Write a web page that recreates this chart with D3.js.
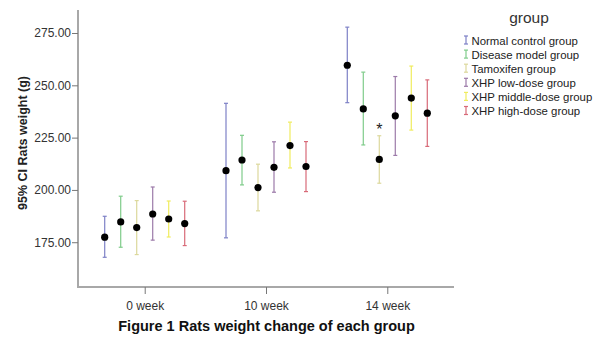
<!DOCTYPE html>
<html>
<head>
<meta charset="utf-8">
<script src="https://cdn.jsdelivr.net/npm/d3@7"></script>
<style>
  body { margin: 0; background: #fff; }
  text { font-family: "Liberation Sans", Arial, sans-serif; }
</style>
</head>
<body>
<script>
// Data
const weeks = ["0 week", "10 week", "14 week"];
const groups = ["Normal control group", "Disease model group", "Tamoxifen group",
  "XHP low-dose group", "XHP middle-dose group", "XHP high-dose group"];
const colors = ["#7d80c6", "#7fcc8a", "#dcd89c", "#9c7aa9", "#f0ec5e", "#d86a78"];

// mean per group, one array per week
const means = [
  [177.4, 184.7, 182.0, 188.5, 186.1, 183.9],
  [209.2, 214.3, 201.1, 210.8, 221.2, 211.2],
  [259.6, 238.7, 214.6, 235.4, 243.9, 236.7]
];
const upper = [
  [187.4, 197.0, 194.9, 201.4, 194.7, 194.6],
  [241.4, 226.1, 212.3, 223.0, 232.4, 223.1],
  [277.8, 256.3, 225.9, 254.2, 259.2, 252.6]
];
const lower = [
  [167.8, 172.6, 169.1, 176.0, 177.5, 173.4],
  [177.1, 202.4, 190.0, 198.9, 210.5, 199.2],
  [241.7, 221.5, 203.2, 216.5, 228.6, 220.8]
];
const yTicks = [175, 200, 225, 250, 275];

// Layout
const W = 595, H = 337;
const plot = { left: 78, right: 454, top: 10, bottom: 287 };

const svg = d3.select("body").append("svg")
  .attr("width", W)
  .attr("height", H);

const x = d3.scalePoint()
  .domain(weeks)
  .range([plot.left, plot.right])
  .padding(0.55);

const offset = d3.scalePoint()
  .domain(groups)
  .range([-40, 40]);

const y = d3.scaleLinear()
  .domain([153.6, 286])
  .range([plot.bottom, plot.top]);

// Axes
const yAxis = svg.append("g")
  .attr("transform", `translate(${plot.left},0)`)
  .call(d3.axisLeft(y).tickValues(yTicks).tickFormat(d3.format(".2f")).tickSize(6).tickSizeOuter(0));

const xAxis = svg.append("g")
  .attr("transform", `translate(0,${plot.bottom})`)
  .call(d3.axisBottom(x).tickSize(7).tickSizeOuter(0));

[yAxis, xAxis].forEach(g => {
  g.select(".domain").attr("stroke", "#a8a8a8").attr("stroke-width", 2);
  g.selectAll(".tick line").attr("stroke", "#777");
  g.selectAll(".tick text").attr("fill", "#333").style("font-size", "12px");
});
yAxis.selectAll(".tick text").attr("x", -7);
xAxis.selectAll(".tick text").attr("dy", "1.05em");

// extend domains so axes meet at the corner
yAxis.select(".domain").attr("d", `M0,${plot.top}V${plot.bottom + 1}`);
xAxis.select(".domain").attr("d", `M${plot.left - 1},0H${plot.right}`);

// Error bars and means
const cap = 2;
weeks.forEach((wk, wi) => {
  groups.forEach((gr, gi) => {
    const cx = x(wk) + offset(gr);
    const g = svg.append("g").attr("stroke", colors[gi]).attr("stroke-width", 1.2);
    g.append("line")
      .attr("x1", cx).attr("x2", cx)
      .attr("y1", y(upper[wi][gi])).attr("y2", y(lower[wi][gi]));
    [upper[wi][gi], lower[wi][gi]].forEach(v => {
      g.append("line")
        .attr("x1", cx - cap).attr("x2", cx + cap)
        .attr("y1", y(v)).attr("y2", y(v));
    });
    svg.append("circle")
      .attr("cx", cx)
      .attr("cy", y(means[wi][gi]))
      .attr("r", 3.6)
      .attr("fill", "#000");
  });
});

// significance star above tamoxifen at 14 week
svg.append("text")
  .attr("x", x("14 week") + offset(groups[2]))
  .attr("y", y(upper[2][2]) - 1)
  .attr("text-anchor", "middle")
  .style("font-size", "16px")
  .attr("fill", "#222")
  .text("*");

// Axis titles
svg.append("text")
  .attr("transform", `translate(27,143) rotate(-90)`)
  .attr("text-anchor", "middle")
  .style("font-size", "12.5px")
  .style("font-weight", "bold")
  .attr("fill", "#222")
  .text("95% CI Rats weight  (g)");

svg.append("text")
  .attr("x", 266.5)
  .attr("y", 331)
  .attr("text-anchor", "middle")
  .style("font-size", "14.5px")
  .style("font-weight", "bold")
  .attr("fill", "#111")
  .text("Figure 1 Rats weight change of each group");

// Legend
const legend = svg.append("g").attr("transform", "translate(466,40)");
legend.append("text")
  .attr("x", 63)
  .attr("y", -17)
  .attr("text-anchor", "middle")
  .style("font-size", "15.5px")
  .attr("fill", "#333")
  .text("group");

groups.forEach((gr, gi) => {
  const item = legend.append("g").attr("transform", `translate(0,${gi * 14.1})`);
  const s = item.append("g").attr("stroke", colors[gi]).attr("stroke-width", 1.2);
  s.append("line").attr("x1", 0).attr("x2", 0).attr("y1", -4).attr("y2", 4);
  s.append("line").attr("x1", -2).attr("x2", 2).attr("y1", -4).attr("y2", -4);
  s.append("line").attr("x1", -2).attr("x2", 2).attr("y1", 4).attr("y2", 4);
  item.append("text")
    .attr("x", 5.5)
    .attr("y", 4.5)
    .style("font-size", "11.4px")
    .attr("fill", "#222")
    .text(gr);
});
</script>
</body>
</html>
